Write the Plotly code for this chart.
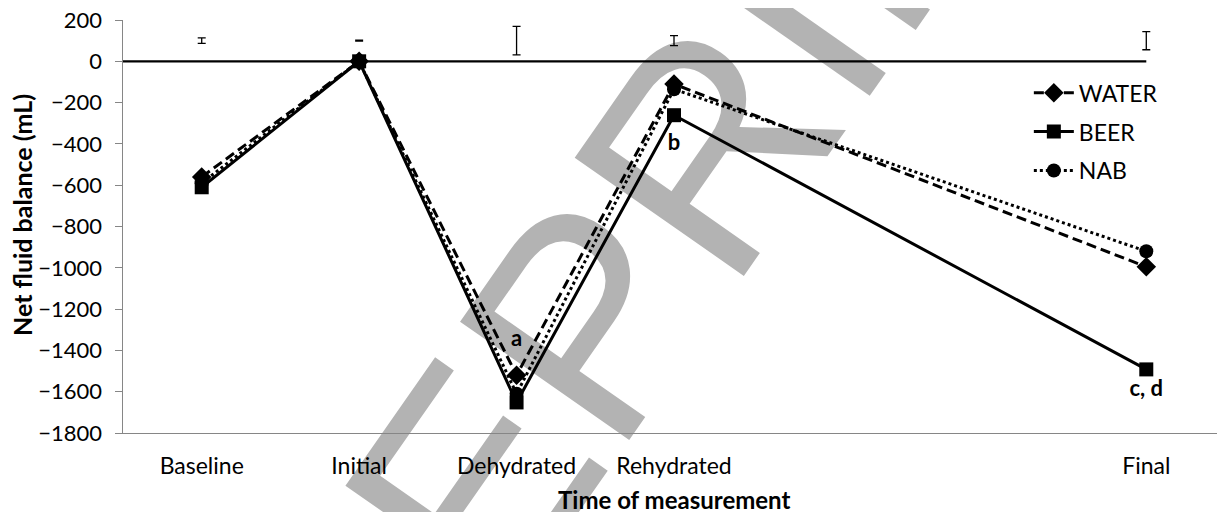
import plotly.graph_objects as go

# Data
categories = ["Baseline", "Initial", "Dehydrated", "Rehydrated", "Final"]
x_pos = [0, 1, 2, 3, 6]
water = [-560, 0, -1520, -110, -995]
beer = [-610, 0, -1652, -261, -1492]
nab = [-590, 0, -1610, -135, -920]
sd_level = [100, 100, 100, 100, 100]
sd_err = [13, 2, 69, 24, 44]
sig_labels = ["a", "b", "c, d"]
sig_x = [2, 3, 6]
sig_y = [-1350, -405, -1595]

FONT = "Lato"
fig = go.Figure()

# error bars row near top
fig.add_trace(go.Scatter(
    x=x_pos, y=sd_level, mode="markers",
    marker=dict(size=1, color="rgba(0,0,0,0)"),
    error_y=dict(type="data", array=sd_err, visible=True, color="black", thickness=1.3, width=4),
    showlegend=False, hoverinfo="skip"))

fig.add_trace(go.Scatter(
    x=x_pos, y=water, name="WATER", mode="lines+markers", legendrank=1, legendgroup="w",
    line=dict(color="black", width=3, dash="10px,5px"),
    marker=dict(symbol="diamond", size=15, color="black")))
fig.add_trace(go.Scatter(
    x=x_pos, y=nab, name="NAB", mode="lines+markers", legendrank=3, legendgroup="n",
    line=dict(color="black", width=3, dash="3px,3px"),
    marker=dict(symbol="circle", size=14, color="black")))
fig.add_trace(go.Scatter(
    x=x_pos, y=beer, name="BEER", mode="lines+markers", legendrank=2, legendgroup="b",
    line=dict(color="black", width=3),
    marker=dict(symbol="square", size=14, color="black")))

fig.add_trace(go.Scatter(
    x=sig_x, y=sig_y, mode="text", text=sig_labels,
    textfont=dict(family=FONT, size=22, color="black", weight="bold"),
    showlegend=False, hoverinfo="skip"))

shapes = [
    dict(type="line", xref="x", yref="y", x0=-0.5, x1=6, y0=0, y1=0,
         line=dict(color="black", width=2.2), layer="above"),
    # watermark (text label on an invisible line, drawn below traces)
    dict(type="line", xref="paper", yref="paper", x0=0.37, y0=0.20, x1=0.474, y1=0.597,
         line=dict(color="rgba(0,0,0,0)", width=0), layer="below",
         label=dict(text="PREPRINT", textposition="middle", yanchor="middle",
                    font=dict(family="Liberation Sans", size=300, color="#b3b3b3"))),
]

annotations = [
    dict(text="<b>Net fluid balance (mL)</b>", xref="paper", yref="paper",
         x=-0.0917, y=0.528, xanchor="center", yanchor="middle", textangle=-90,
         showarrow=False, font=dict(family=FONT, size=25, color="black")),
    dict(text="<b>Time of measurement</b>", xref="paper", yref="paper",
         x=0.5, y=-0.162, xanchor="center", yanchor="middle",
         showarrow=False, font=dict(family=FONT, size=24, color="black")),
]

fig.update_layout(
    width=1217, height=512,
    margin=dict(l=115, r=0, t=12, b=87, autoexpand=False),
    paper_bgcolor="white", plot_bgcolor="white",
    font=dict(family=FONT, size=23, color="black"),
    shapes=shapes, annotations=annotations,
    legend=dict(x=0.822, y=0.876, xanchor="left", yanchor="top",
                font=dict(family=FONT, size=23),
                bgcolor="rgba(0,0,0,0)", itemwidth=40, tracegroupgap=6),
    xaxis=dict(range=[-0.5, 6.5], tickmode="array", tickvals=x_pos, ticktext=categories,
               showgrid=False, zeroline=False, showline=True, linecolor="#868686", linewidth=1.3,
               ticks="outside", ticklen=12, tickcolor="rgba(0,0,0,0)", automargin=False,
               ticklabeloverflow="allow"),
    yaxis=dict(range=[-1800, 200], tickmode="linear", tick0=-1800, dtick=200,
               showgrid=False, zeroline=False, showline=True, linecolor="#868686", linewidth=1.3,
               ticks="outside", ticklen=7, tickcolor="#868686", automargin=False,
               ticklabeloverflow="allow",
               ticksuffix="\u00a0\u2009", tickfont=dict(family=FONT, size=22)),
)

fig.write_html("out.html")
